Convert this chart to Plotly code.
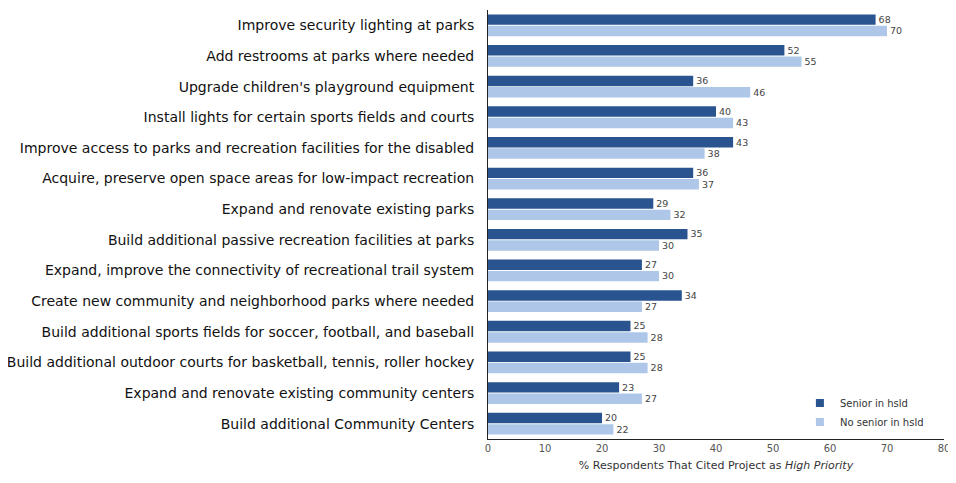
import plotly.graph_objects as go

categories = [
    "Improve security lighting at parks",
    "Add restrooms at parks where needed",
    "Upgrade children's playground equipment",
    "Install lights for certain sports fields and courts",
    "Improve access to parks and recreation facilities for the disabled",
    "Acquire, preserve open space areas for low-impact recreation",
    "Expand and renovate existing parks",
    "Build additional passive recreation facilities at parks",
    "Expand, improve the connectivity of recreational trail system",
    "Create new community and neighborhood parks where needed",
    "Build additional sports fields for soccer, football, and baseball",
    "Build additional outdoor courts for basketball, tennis, roller hockey",
    "Expand and renovate existing community centers",
    "Build additional Community Centers",
]
senior = [68, 52, 36, 40, 43, 36, 29, 35, 27, 34, 25, 25, 23, 20]
no_senior = [70, 55, 46, 43, 38, 37, 32, 30, 30, 27, 28, 28, 27, 22]
series_names = ["Senior in hsld", "No senior in hsld"]
x_ticks = [0, 10, 20, 30, 40, 50, 60, 70, 80]

font_family = "DejaVu Sans, Verdana, sans-serif"
colors = ["#2A5490", "#AEC7E8"]

fig = go.Figure()
for vals, name, col in zip([senior, no_senior], series_names, colors):
    fig.add_trace(go.Bar(
        y=categories, x=vals, orientation="h", name=name, showlegend=False,
        marker=dict(color=col, line=dict(width=0)),
        text=vals, textposition="outside", cliponaxis=False,
        textfont=dict(size=10, color="#444444", family=font_family),
    ))
# legend entries with small square swatches
for name, col in zip(series_names, colors):
    fig.add_trace(go.Scatter(
        x=[None], y=[None], mode="markers", name=name,
        marker=dict(symbol="square", size=8, color=col),
        showlegend=True,
    ))

fig.update_layout(
    width=948, height=475,
    margin=dict(l=480, r=12, t=2, b=44, autoexpand=False),
    paper_bgcolor="white", plot_bgcolor="white",
    barmode="group", bargap=0.26, bargroupgap=0.08,
    font=dict(family=font_family, color="#222222"),
    showlegend=True,
    legend=dict(
        x=0.684, y=0.118, xanchor="left", yanchor="top",
        font=dict(size=10, color="#333333", family=font_family),
        bgcolor="rgba(0,0,0,0)", tracegroupgap=0, itemwidth=30,
        traceorder="normal",
    ),
    xaxis=dict(
        range=[0, 80], tickvals=x_ticks, showgrid=False, zeroline=False,
        showline=True, linecolor="#222222", linewidth=1, automargin=False,
        ticks="", tickfont=dict(size=10, color="#555555"),
        title=dict(text="% Respondents That Cited Project as <i>High Priority</i>",
                   font=dict(size=11, color="#333333"), standoff=8),
    ),
    yaxis=dict(
        autorange="reversed", showgrid=False, zeroline=False,
        showline=True, linecolor="#222222", linewidth=1, automargin=False,
        ticks="", tickfont=dict(size=14, color="#111111"),
        ticklabelstandoff=10,
    ),
)

fig.write_html("out.html")
